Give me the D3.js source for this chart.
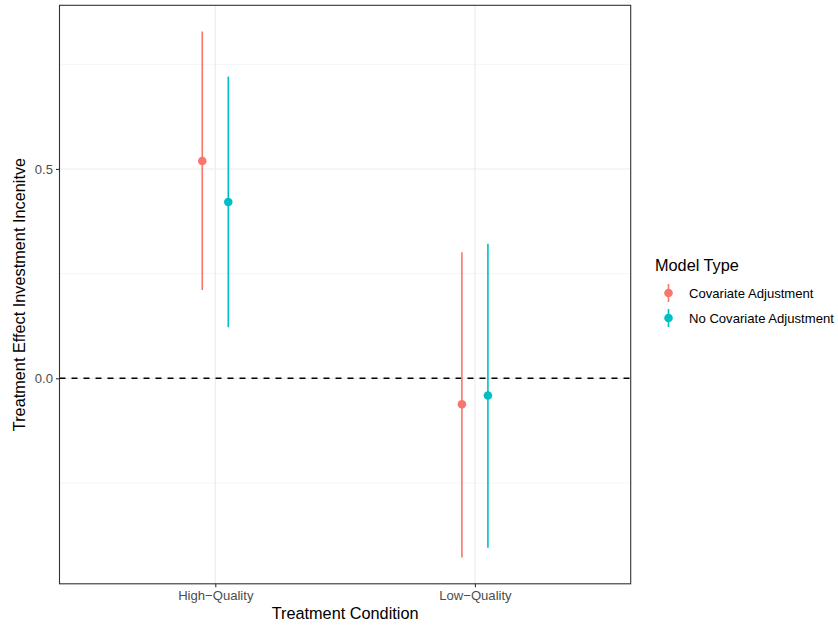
<!DOCTYPE html>
<html>
<head>
<meta charset="utf-8">
<script src="https://cdn.jsdelivr.net/npm/d3@7"></script>
<style>
  body { margin: 0; background: #fff; }
  text { font-family: "Liberation Sans", Arial, sans-serif; }
</style>
</head>
<body>
<svg width="838" height="626"></svg>
<script>
// data
const conditions = ["High\u2212Quality", "Low\u2212Quality"];
const models = ["Covariate Adjustment", "No Covariate Adjustment"];
const colors = ["#F8766D", "#00BFC4"];
// estimate, lower, upper per condition for each model
const covEst = [0.519, -0.062];
const covLow = [0.211, -0.428];
const covHigh = [0.828, 0.301];
const noCovEst = [0.421, -0.041];
const noCovLow = [0.122, -0.405];
const noCovHigh = [0.7205, 0.3215];
const yTicks = [0, 0.5];
const yMinor = [-0.25, 0.25, 0.75];

const rows = [];
conditions.forEach(function (c, i) {
    rows.push({ cond: c, model: models[0], est: covEst[i], lo: covLow[i], hi: covHigh[i] });
    rows.push({ cond: c, model: models[1], est: noCovEst[i], lo: noCovLow[i], hi: noCovHigh[i] });
});

const svg = d3.select("svg");
const pLeft = 59.5, pRight = 630.7, pTop = 5.3, pBottom = 583.8;

const xScale = d3.scalePoint()
    .domain(conditions)
    .range([pLeft, pRight])
    .padding(0.6);

const dodge = d3.scalePoint()
    .domain(models)
    .range([-13, 13]);

const color = d3.scaleOrdinal()
    .domain(models)
    .range(colors);

const yExtent = [d3.min(rows, function (d) { return d.lo }), d3.max(rows, function (d) { return d.hi })];
const pad = (yExtent[1] - yExtent[0]) * 0.05;
const yScale = d3.scaleLinear()
    .domain([yExtent[0] - pad, yExtent[1] + pad])
    .range([pBottom, pTop]);

// grid
const grid = svg.append("g");
grid.selectAll(".minor")
    .data(yMinor)
    .enter().append("line")
    .attr("x1", pLeft).attr("x2", pRight)
    .attr("y1", function (d) { return yScale(d) })
    .attr("y2", function (d) { return yScale(d) })
    .attr("stroke", "#EBEBEB").attr("stroke-width", 0.55);
grid.selectAll(".major")
    .data(yTicks)
    .enter().append("line")
    .attr("x1", pLeft).attr("x2", pRight)
    .attr("y1", function (d) { return yScale(d) })
    .attr("y2", function (d) { return yScale(d) })
    .attr("stroke", "#EBEBEB").attr("stroke-width", 1.1);
grid.selectAll(".xmajor")
    .data(conditions)
    .enter().append("line")
    .attr("x1", function (d) { return xScale(d) })
    .attr("x2", function (d) { return xScale(d) })
    .attr("y1", pTop).attr("y2", pBottom)
    .attr("stroke", "#EBEBEB").attr("stroke-width", 1.1);

// zero reference line
svg.append("line")
    .attr("x1", pLeft).attr("x2", pRight)
    .attr("y1", yScale(0)).attr("y2", yScale(0))
    .attr("stroke", "#000").attr("stroke-width", 1.5)
    .attr("stroke-dasharray", "6,6");

// point ranges
const marks = svg.append("g");
marks.selectAll(".range")
    .data(rows)
    .enter().append("line")
    .attr("x1", function (d) { return xScale(d.cond) + dodge(d.model) })
    .attr("x2", function (d) { return xScale(d.cond) + dodge(d.model) })
    .attr("y1", function (d) { return yScale(d.lo) })
    .attr("y2", function (d) { return yScale(d.hi) })
    .attr("stroke", function (d) { return color(d.model) })
    .attr("stroke-width", 1.6);
marks.selectAll(".pt")
    .data(rows)
    .enter().append("circle")
    .attr("cx", function (d) { return xScale(d.cond) + dodge(d.model) })
    .attr("cy", function (d) { return yScale(d.est) })
    .attr("r", 4.3)
    .attr("fill", function (d) { return color(d.model) });

// panel border
svg.append("rect")
    .attr("x", pLeft).attr("y", pTop)
    .attr("width", pRight - pLeft).attr("height", pBottom - pTop)
    .attr("fill", "none").attr("stroke", "#333333").attr("stroke-width", 1.1);

// axes
const xAxis = d3.axisBottom(xScale).tickSize(3.5).tickPadding(3);
const xAxisG = svg.append("g")
    .attr("transform", "translate(0," + pBottom + ")")
    .call(xAxis);
const yAxis = d3.axisLeft(yScale).tickValues(yTicks).tickSize(3.5).tickPadding(3)
    .tickFormat(d3.format(".1f"));
const yAxisG = svg.append("g")
    .attr("transform", "translate(" + pLeft + ",0)")
    .call(yAxis);
[xAxisG, yAxisG].forEach(function (g) {
    g.select(".domain").remove();
    g.selectAll(".tick line").attr("stroke", "#333333").attr("stroke-width", 1.1);
    g.selectAll(".tick text").attr("fill", "#4D4D4D")
        .style("font-size", "13.1px")
        .style("font-family", "'Liberation Sans', Arial, sans-serif");
});

// axis titles
svg.append("text")
    .attr("x", (pLeft + pRight) / 2).attr("y", 619)
    .attr("text-anchor", "middle")
    .style("font-size", "16.3px")
    .text("Treatment Condition");
svg.append("text")
    .attr("transform", "translate(25," + (pTop + pBottom) / 2 + ") rotate(-90)")
    .attr("text-anchor", "middle")
    .style("font-size", "16.3px")
    .text("Treatment Effect Investment Incenitve");

// legend
const legend = svg.append("g").attr("transform", "translate(655,0)");
legend.append("text")
    .attr("x", 0).attr("y", 271)
    .style("font-size", "16.3px")
    .text("Model Type");
const keys = legend.selectAll(".key")
    .data(models)
    .enter().append("g")
    .attr("transform", function (d, i) { return "translate(0," + (293 + i * 25) + ")" });
keys.append("line")
    .attr("x1", 13.5).attr("x2", 13.5)
    .attr("y1", -9).attr("y2", 9)
    .attr("stroke", function (d) { return color(d) })
    .attr("stroke-width", 1.6);
keys.append("circle")
    .attr("cx", 13.5).attr("cy", 0).attr("r", 4.3)
    .attr("fill", function (d) { return color(d) });
keys.append("text")
    .attr("x", 34).attr("y", 4.6)
    .style("font-size", "13.1px")
    .text(function (d) { return d });
</script>
</body>
</html>
